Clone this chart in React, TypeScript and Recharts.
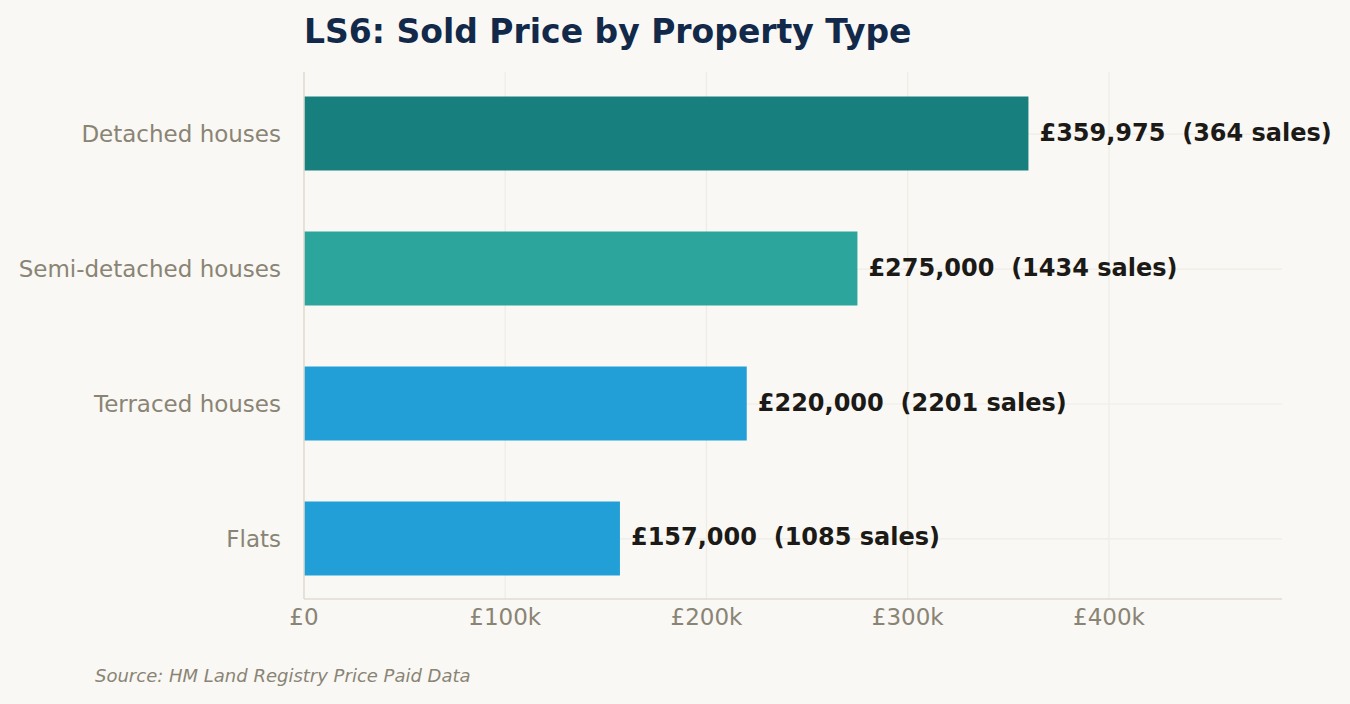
import { BarChart, Bar, XAxis, YAxis, CartesianGrid, Cell, LabelList } from 'recharts';

const categories = ['Detached houses', 'Semi-detached houses', 'Terraced houses', 'Flats'];
const prices = [359975, 275000, 220000, 157000];
const sales = [364, 1434, 2201, 1085];
const barColors = ['#17807e', '#2ca59c', '#239fd8', '#239fd8'];
const xTicks = [0, 100000, 200000, 300000, 400000];

const FONT = '"DejaVu Sans", sans-serif';

const data = categories.map((name, i) => ({ pos: i, name, price: prices[i], sales: sales[i] }));

// axis max = 1.35 x the biggest price, like the original
const xMax = Math.max(...prices) * 1.35;

const fmtTick = (v: number) => (v === 0 ? '£0' : `£${v / 1000}k`);

const ValueLabel = (props: any) => {
    const { x, y, width, height, index } = props;
    const d = data[index];
    return (
        <text
            x={x + width + 11}
            y={y + height / 2 + 7}
            fill="#1c1a17"
            fontSize={24}
            fontWeight="bold"
            fontFamily={FONT}
            style={{ whiteSpace: 'pre' }}
        >
            {`£${d.price.toLocaleString('en-GB')}  (${d.sales} sales)`}
        </text>
    );
};

const App = () => {
    return (
        <div style={{ position: 'absolute', left: 0, top: 0, width: 1350, height: 704, background: '#f9f8f4', fontFamily: FONT }}>
            <div style={{ position: 'absolute', left: 304, top: 12, fontSize: 33, fontWeight: 'bold', color: '#12294a', whiteSpace: 'nowrap' }}>
                LS6: Sold Price by Property Type
            </div>
            <BarChart
                width={1350}
                height={704}
                data={data}
                layout="vertical"
                margin={{ top: 72, right: 68, bottom: 65, left: 14 }}
            >
                <CartesianGrid stroke="#efece5" strokeWidth={1.2} syncWithTicks />
                <XAxis
                    type="number"
                    dataKey="price"
                    domain={[0, xMax]}
                    ticks={xTicks}
                    allowDataOverflow
                    tickFormatter={fmtTick}
                    tickLine={false}
                    tickSize={0}
                    tickMargin={10}
                    height={40}
                    axisLine={{ stroke: '#e2ddcf', strokeWidth: 1.5 }}
                    tick={{ fill: '#8a8474', fontSize: 23, fontFamily: FONT }}
                />
                <YAxis
                    type="number"
                    dataKey="pos"
                    domain={[-0.46, 3.445]}
                    ticks={[0, 1, 2, 3]}
                    allowDataOverflow
                    tickFormatter={(v: number) => categories[v]}
                    tickLine={false}
                    tickSize={0}
                    tickMargin={23}
                    width={290}
                    axisLine={{ stroke: '#e2ddcf', strokeWidth: 1.5 }}
                    tick={{ fill: '#8a8474', fontSize: 23, fontFamily: FONT }}
                />
                <Bar dataKey="price" barSize={74} isAnimationActive={false}>
                    {data.map((_, i) => (
                        <Cell key={i} fill={barColors[i]} />
                    ))}
                    <LabelList dataKey="price" content={ValueLabel} />
                </Bar>
            </BarChart>
            <div style={{ position: 'absolute', left: 95, top: 665, fontSize: 18, fontStyle: 'italic', color: '#8a8474', whiteSpace: 'nowrap' }}>
                Source: HM Land Registry Price Paid Data
            </div>
        </div>
    );
};

export default App;
